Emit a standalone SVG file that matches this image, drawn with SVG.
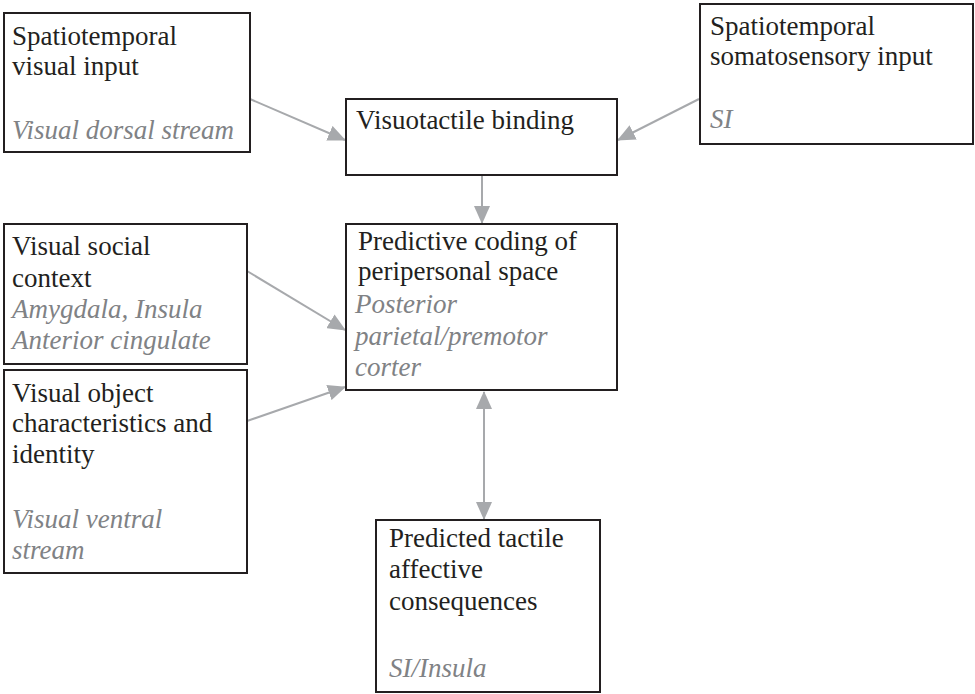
<svg xmlns="http://www.w3.org/2000/svg" width="975" height="694" viewBox="0 0 975 694">
<style>
.box{fill:#fff;stroke:#231f20;stroke-width:2}
.t{font-family:"Liberation Serif",serif;font-size:27px;fill:#231f20}
.i{font-family:"Liberation Serif",serif;font-size:27px;font-style:italic;fill:#808285}
.c{stroke:#a7a9ac;stroke-width:2;fill:none}
</style>
<defs>
<marker id="ah" markerUnits="userSpaceOnUse" markerWidth="18" markerHeight="16" viewBox="0 0 18 16" refX="17" refY="8" orient="auto-start-reverse">
<path d="M0,0 L18,8 L0,16 Z" fill="#a7a9ac"/>
</marker>
</defs>
<rect width="975" height="694" fill="#fff"/>
<g id="connectors">
<line class="c" x1="250" y1="99" x2="345" y2="140" marker-end="url(#ah)"/>
<line class="c" x1="699" y1="99" x2="618" y2="140" marker-end="url(#ah)"/>
<line class="c" x1="482" y1="176" x2="482" y2="223" marker-end="url(#ah)"/>
<line class="c" x1="247" y1="271" x2="345" y2="330" marker-end="url(#ah)"/>
<line class="c" x1="247" y1="421" x2="345" y2="387" marker-end="url(#ah)"/>
<line class="c" x1="484" y1="392" x2="484" y2="519" marker-start="url(#ah)" marker-end="url(#ah)"/>
</g>
<g id="n1">
<rect class="box" x="4" y="13" width="246" height="139"/>
<text class="t" x="12" y="45">Spatiotemporal</text>
<text class="t" x="12" y="75">visual input</text>
<text class="i" x="12" y="139">Visual dorsal stream</text>
</g>
<g id="n2">
<rect class="box" x="346" y="99" width="271" height="76"/>
<text class="t" x="356" y="129">Visuotactile binding</text>
</g>
<g id="n3">
<rect class="box" x="700" y="4" width="273" height="140"/>
<text class="t" x="710" y="35">Spatiotemporal</text>
<text class="t" x="710" y="65">somatosensory input</text>
<text class="i" x="710" y="128">SI</text>
</g>
<g id="n4">
<rect class="box" x="346" y="224" width="271" height="166"/>
<text class="t" x="358" y="250">Predictive coding of</text>
<text class="t" x="358" y="280">peripersonal space</text>
<text class="i" x="355" y="313">Posterior</text>
<text class="i" x="355" y="345">parietal/premotor</text>
<text class="i" x="355" y="376">corter</text>
</g>
<g id="n5">
<rect class="box" x="4" y="224" width="243" height="140"/>
<text class="t" x="12" y="255">Visual social</text>
<text class="t" x="12" y="287">context</text>
<text class="i" x="12" y="318">Amygdala, Insula</text>
<text class="i" x="12" y="349">Anterior cingulate</text>
</g>
<g id="n6">
<rect class="box" x="4" y="370" width="243" height="203"/>
<text class="t" x="12" y="402">Visual object</text>
<text class="t" x="12" y="432">characteristics and</text>
<text class="t" x="12" y="463">identity</text>
<text class="i" x="12" y="528">Visual ventral</text>
<text class="i" x="12" y="559">stream</text>
</g>
<g id="n7">
<rect class="box" x="376" y="520" width="224" height="172"/>
<text class="t" x="389" y="547">Predicted tactile</text>
<text class="t" x="389" y="578">affective</text>
<text class="t" x="389" y="610">consequences</text>
<text class="i" x="389" y="677">SI/Insula</text>
</g>
</svg>
